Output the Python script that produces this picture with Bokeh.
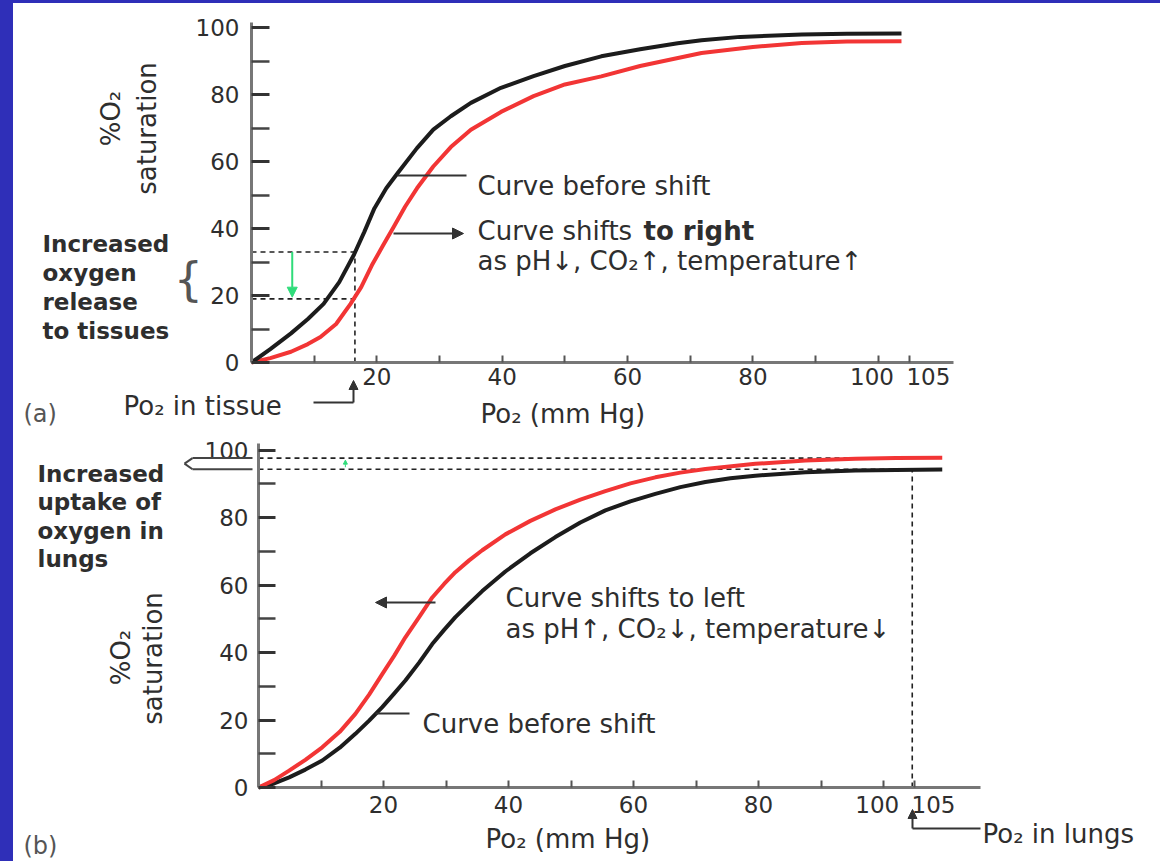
from bokeh.plotting import figure
from bokeh.models import Range1d, FixedTicker, Label, Arrow, NormalHead, Div
from bokeh.layouts import row, column
from bokeh.embed import file_html
from bokeh.resources import INLINE

# ---------------- data: panel (a) -- shift to the right ----------------
a_before_po2 = [0, 3, 6.3, 9, 11.5, 14, 16.3, 18, 19.6, 21.5, 23.3, 26.4, 29, 31.8, 35,
                39.8, 45, 50, 55.8, 62, 68, 71.8, 78, 87.8, 95, 103.7]
a_before_sat = [0, 4, 8.7, 13, 17.5, 24, 32, 39, 46, 52, 56.5, 64, 69.5, 73.5, 77.5,
                82, 85.5, 88.5, 91.4, 93.5, 95.3, 96.2, 97.2, 97.9, 98.1, 98.2]
a_after_po2 = [0, 3, 6.3, 9, 11, 13.5, 15.8, 17.5, 19.2, 21, 22.7, 24.5, 26.4, 29, 31.8,
               35, 39.8, 45, 50, 55.8, 62, 71.8, 80, 87.8, 95, 103.7]
a_after_sat = [0, 1.3, 3.2, 5.5, 7.6, 11.5, 17.5, 22.5, 29, 35, 40.5, 46.5, 52, 58.5, 64.3,
               69.5, 74.8, 79.5, 83, 85.4, 88.5, 92.4, 94.2, 95.4, 95.8, 95.9]
tissue_po2 = 16.5
tissue_sat_before = 33
tissue_sat_after = 19

# ---------------- data: panel (b) -- shift to the left ----------------
b_before_po2 = [0, 2.5, 4.9, 7.5, 10.2, 13, 15.5, 17.7, 19.8, 21.7, 23.5, 25.7, 27.8, 29.7,
                31.5, 33.7, 35.8, 39.5, 43.5, 47.5, 51.5, 55.5, 59.5, 63.5, 67.5, 71.5,
                75.5, 79.5, 87.5, 95.5, 102, 109.4]
b_before_sat = [0, 1.2, 3.0, 5.3, 8.0, 11.8, 15.9, 19.8, 23.8, 27.8, 31.7, 37.0, 42.5, 46.7,
                50.5, 54.5, 58.2, 64.0, 69.4, 74.2, 78.5, 82.1, 84.8, 87.0, 89.0, 90.5,
                91.6, 92.4, 93.4, 93.9, 94.1, 94.2]
b_after_po2 = [0, 2.5, 4.9, 7.5, 10.2, 13, 15.5, 17.7, 19.8, 21.7, 23.5, 25.7, 27.8, 29.7,
               31.5, 33.7, 35.8, 39.5, 43.5, 47.5, 51.5, 55.5, 59.5, 63.5, 67.5, 71.5,
               79.5, 87.5, 95.5, 102, 109.4]
b_after_sat = [0, 2.2, 5.0, 8.2, 11.9, 16.5, 21.8, 27.5, 33.6, 39.0, 44.5, 50.5, 56.3, 60.3,
               63.8, 67.3, 70.3, 75.0, 79.0, 82.4, 85.3, 87.8, 90.1, 91.9, 93.3, 94.4,
               95.9, 96.9, 97.4, 97.6, 97.7]
lungs_po2 = 104.6
lungs_sat_before = 94.3
lungs_sat_after = 97.6

# ---------------- ticks ----------------
x_tick_labels = ["20", "40", "60", "80", "100", "105"]
x_label_at = [20, 40, 60, 80, 99, 108]          # label text spots (100 / 105 set apart)
x_tick_marks = [10, 20, 30, 40, 50, 60, 70, 80, 90, 100, 105]
y_tick_values = [0, 20, 40, 60, 80, 100]
y_tick_labels = ["0", "20", "40", "60", "80", "100"]
y_minor_marks = [10, 30, 50, 70, 90]

FONT = "DejaVu Sans"
TXT = "#2e2e2e"
RED = "#f23535"
BLACK = "#1c1c1c"
GREEN = "#2fdc7a"
BLUE = "#2f2fb8"

STRIP_W = 13
TOP_H = 3
FIG_W = 1147          # canvas spans page x 13 .. 1160


def make_fig(height, top, x0px, xscale, y0px, yscale, xmax, ymax, x_standoff, y_standoff, ytick_len):
    """Frame covers the whole canvas; axes sit at data 0 (fixed_location) with bounds."""
    left, right = STRIP_W, STRIP_W + FIG_W
    bottom = top + height
    xr = Range1d((left - x0px) / xscale, (right - x0px) / xscale)
    yr = Range1d((y0px - bottom) / yscale, (y0px - top) / yscale)
    p = figure(width=FIG_W, height=height, x_range=xr, y_range=yr,
               output_backend="svg", toolbar_location=None,
               min_border=0, min_border_left=0, min_border_right=0,
               min_border_top=0, min_border_bottom=0)
    p.grid.visible = False
    p.outline_line_color = None
    p.border_fill_color = "white"
    p.background_fill_color = "white"
    xa, ya = p.xaxis[0], p.yaxis[0]
    xa.fixed_location = 0
    ya.fixed_location = 0
    xa.bounds = (0, xmax)
    ya.bounds = (0, ymax)
    xa.ticker = FixedTicker(ticks=x_label_at, minor_ticks=x_tick_marks)
    xa.major_label_overrides = {v: t for v, t in zip(x_label_at, x_tick_labels)}
    xa.major_tick_in = 0
    xa.major_tick_out = 0
    xa.minor_tick_in = 7
    xa.minor_tick_out = 0
    xa.minor_tick_line_color = "#555"
    xa.minor_tick_line_width = 2
    xa.major_label_standoff = x_standoff
    ya.ticker = FixedTicker(ticks=y_tick_values, minor_ticks=y_minor_marks)
    ya.major_label_overrides = {v: t for v, t in zip(y_tick_values, y_tick_labels)}
    ya.major_tick_in = ytick_len
    ya.major_tick_out = 0
    ya.minor_tick_in = ytick_len
    ya.minor_tick_out = 0
    ya.major_tick_line_color = "#333"
    ya.major_tick_line_width = 3
    ya.minor_tick_line_color = "#444"
    ya.minor_tick_line_width = 2.5
    ya.major_label_standoff = y_standoff
    for ax in (xa, ya):
        ax.axis_line_color = "#777"
        ax.axis_line_width = 3
        ax.major_label_text_font = FONT
        ax.major_label_text_font_size = "23px"
        ax.major_label_text_color = TXT

    def conv(px, py):
        return (px - x0px) / xscale, (y0px - py) / yscale
    return p, conv


def add_text(p, conv, px, py, text, size="26px", style="normal", color=TXT,
             align="left", baseline="alphabetic", angle=0):
    x, y = conv(px, py)
    p.add_layout(Label(x=x, y=y, text=text, text_font=FONT, text_font_size=size,
                       text_font_style=style, text_color=color, text_align=align,
                       text_baseline=baseline, angle=angle, angle_units="deg"))


def add_line(p, conv, p0, p1, head=False, color="#333", width=2, head_size=11):
    x0, y0 = conv(*p0)
    x1, y1 = conv(*p1)
    end = NormalHead(size=head_size, fill_color=color, line_color=color) if head else None
    p.add_layout(Arrow(x_start=x0, y_start=y0, x_end=x1, y_end=y1, end=end,
                       line_color=color, line_width=width))


# ======================= panel (a) =======================
p1, A = make_fig(427, TOP_H, 251, 6.268, 362, 3.35, 112, 101.5, 5, 12, 18)

p1.segment(x0=[0, 0, tissue_po2], y0=[tissue_sat_before, tissue_sat_after, 0],
           x1=[tissue_po2, tissue_po2, tissue_po2],
           y1=[tissue_sat_before, tissue_sat_after, tissue_sat_before],
           line_color="#222", line_width=1.6, line_dash="5 4")
p1.line(a_after_po2, a_after_sat, line_color=RED, line_width=4, line_join="round")
p1.line(a_before_po2, a_before_sat, line_color=BLACK, line_width=4, line_join="round")

p1.add_layout(Arrow(x_start=6.5, y_start=tissue_sat_before, x_end=6.5, y_end=tissue_sat_after + 0.5,
                    end=NormalHead(size=10, fill_color=GREEN, line_color=GREEN),
                    line_color=GREEN, line_width=2))

add_line(p1, A, (397, 175), (466, 175))
add_line(p1, A, (393, 233), (463, 233), head=True)
add_line(p1, A, (313, 402), (353, 402))
add_line(p1, A, (353, 402), (353, 380), head=True, head_size=9)

for i, t in enumerate(["Increased", "oxygen", "release", "to tissues"]):
    add_text(p1, A, 42, 243 + 29 * i, t, size="23px", style="bold")
add_text(p1, A, 188, 278, "{", size="46px", color="#555", align="center", baseline="middle")
add_text(p1, A, 110, 118, "%O\u2082", size="26px", align="center", baseline="middle", angle=90)
add_text(p1, A, 146, 128, "saturation", size="26px", align="center", baseline="middle", angle=90)
add_text(p1, A, 477, 185, "Curve before shift")
add_text(p1, A, 477, 230, "Curve shifts")
add_text(p1, A, 643, 230, "to right", style="bold")
add_text(p1, A, 477, 260, "as pH\u2193, CO\u2082\u2191, temperature\u2191")
add_text(p1, A, 480, 413, "Po\u2082 (mm Hg)")
add_text(p1, A, 23, 413, "(a)", size="24px", color="#555")
add_text(p1, A, 123, 405, "Po\u2082 in tissue")

# ======================= panel (b) =======================
p2, B = make_fig(431, 430, 258, 6.25, 787, 3.375, 115.5, 101.9, 8, 10, 17)

p2.segment(x0=[0, 0, lungs_po2], y0=[lungs_sat_after, lungs_sat_before, 0],
           x1=[lungs_po2, lungs_po2, lungs_po2],
           y1=[lungs_sat_after, lungs_sat_before, lungs_sat_before],
           line_color="#222", line_width=1.6, line_dash="5 4")
p2.line(b_before_po2, b_before_sat, line_color=BLACK, line_width=4, line_join="round")
p2.line(b_after_po2, b_after_sat, line_color=RED, line_width=4, line_join="round")

p2.add_layout(Arrow(x_start=13.9, y_start=lungs_sat_before + 0.6, x_end=13.9, y_end=lungs_sat_after - 0.6,
                    end=NormalHead(size=4, fill_color=GREEN, line_color=GREEN),
                    line_color=GREEN, line_width=1))

add_line(p2, B, (435, 602), (375, 602), head=True)
add_line(p2, B, (375, 713), (409, 713))
add_line(p2, B, (980, 828), (912, 828))
add_line(p2, B, (912, 828), (912, 809), head=True, head_size=9)
# bracket by the 100 label
yu = 787 - lungs_sat_after * 3.375
yl = 787 - lungs_sat_before * 3.375
add_line(p2, B, (252, yu), (192, yu), color="#444")
add_line(p2, B, (192, yu), (184, (yu + yl) / 2), color="#444")
add_line(p2, B, (184, (yu + yl) / 2), (192, yl), color="#444")
add_line(p2, B, (192, yl), (252, yl), color="#444")

for i, t in enumerate(["Increased", "uptake of", "oxygen in", "lungs"]):
    add_text(p2, B, 37, 473 + 28.5 * i, t, size="23px", style="bold")
add_text(p2, B, 120, 657, "%O\u2082", size="26px", align="center", baseline="middle", angle=90)
add_text(p2, B, 152, 658, "saturation", size="26px", align="center", baseline="middle", angle=90)
add_text(p2, B, 505, 597, "Curve shifts to left")
add_text(p2, B, 505, 628, "as pH\u2191, CO\u2082\u2193, temperature\u2193")
add_text(p2, B, 422, 723, "Curve before shift")
add_text(p2, B, 485, 838, "Po\u2082 (mm Hg)")
add_text(p2, B, 23, 845, "(b)", size="24px", color="#555")
add_text(p2, B, 982, 833, "Po\u2082 in lungs")

strip = Div(text="", width=STRIP_W, height=TOP_H + 427 + 431, margin=0,
            styles={"background-color": BLUE})
top_strip = Div(text="", width=FIG_W, height=TOP_H, margin=0,
                styles={"background-color": BLUE})
layout = row(strip, column(top_strip, p1, p2, spacing=0), spacing=0)

open("out.html", "w").write(file_html(layout, INLINE))
